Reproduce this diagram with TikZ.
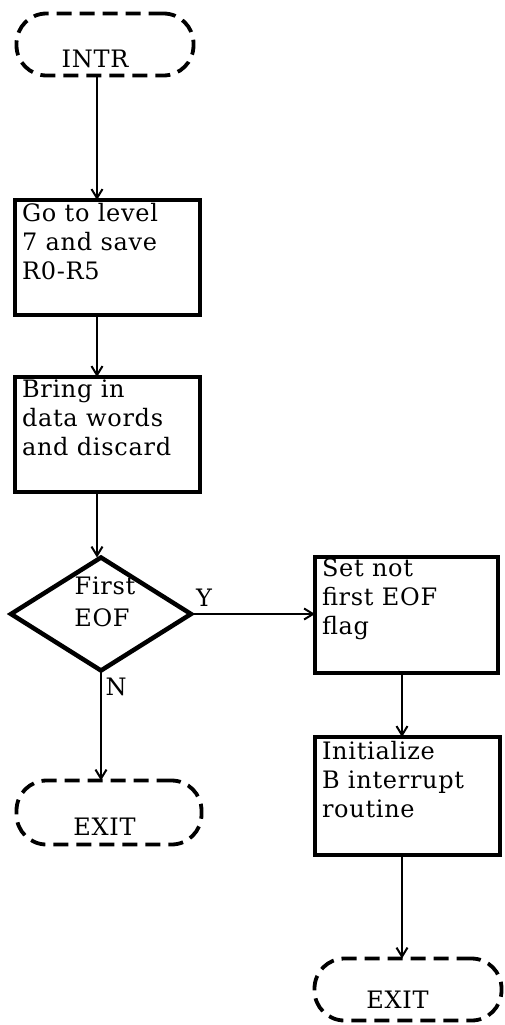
\documentclass[tikz,border=0pt]{standalone}
\usepackage{fontspec}
\setmainfont[LetterSpace=3]{DejaVu Serif}
\usetikzlibrary{shapes.geometric,arrows.meta}
\begin{document}
\begin{tikzpicture}[x=1pt,y=-1pt,
  every node/.style={inner sep=0pt, outer sep=0pt},
  txt/.style={font=\fontsize{24}{29}\selectfont},
  boxtext/.style={txt, anchor=north west, align=left},
  procbox/.style={draw, line width=4.5pt, rectangle},
  termbox/.style={draw, line width=3.8pt, rectangle, rounded corners=30pt,
    dash pattern=on 15pt off 8pt},
  decision/.style={draw, line width=4.5pt, diamond, line join=miter},
  arr/.style={line width=2.5pt, -{Straight Barb[length=9pt,width=11pt,line width=2pt]}}
]
\useasboundingbox (0,0) rectangle (504,1025);
\fill[white] (0,0) rectangle (504,1025);

% column lines for the vertical connectors
\coordinate (colL) at (97,0);
\coordinate (colN) at (101,0);
\coordinate (colR) at (402,0);

% start terminal
\node[termbox, minimum width=177pt, minimum height=62pt] (intr) at (105,44.5) {};
\node[txt] (intrt) at (95,59) {INTR};

% processing boxes, left column
\node[procbox, minimum width=185pt, minimum height=115pt] (b1) at (107.5,257.5) {};
\node[boxtext] (b1t) at (22,203) {Go to level\\7 and save\\R0-R5};

\node[procbox, minimum width=185pt, minimum height=115pt] (b2) at (107.5,434.5) {};
\node[boxtext] (b2t) at (22,380) {Bring in\\data words\\and discard};

% decision
\node[decision, minimum width=180pt, minimum height=113pt] (dec) at (101,614) {};
\node[txt] (dect1) at (105,586) {First};
\node[txt] (dect2) at (102,618) {EOF};
\node[txt] (ylab) at (204,598) {Y};
\node[txt] (nlab) at (116,687) {N};

% exit after the decision (no branch)
\node[termbox, minimum width=185pt, minimum height=64pt] (exit1) at (109,812.5) {};
\node[txt] (exit1t) at (104.5,827) {EXIT};

% right column
\node[procbox, minimum width=183pt, minimum height=116pt] (b3) at (406.5,615) {};
\node[boxtext] (b3t) at (322,559) {Set not\\first EOF\\flag};

\node[procbox, minimum width=185pt, minimum height=118pt] (b4) at (407.5,796) {};
\node[boxtext] (b4t) at (322,741) {Initialize\\B interrupt\\routine};

\node[termbox, minimum width=187pt, minimum height=62pt] (exit2) at (408,989.5) {};
\node[txt] (exit2t) at (397.5,1000) {EXIT};

% connectors
\draw[arr] (intr.south -| colL) -- (b1.north -| colL);
\draw[arr] (b1.south -| colL) -- (b2.north -| colL);
\draw[arr] (b2.south -| colL) -- (dec.north -| colL);
\draw[arr] (dec.east) -- (b3.west |- dec.east);
\draw[arr] (dec.south) -- (exit1.north -| colN);
\draw[arr] (b3.south -| colR) -- (b4.north -| colR);
\draw[arr] (b4.south -| colR) -- (exit2.north -| colR);
\end{tikzpicture}
\end{document}
